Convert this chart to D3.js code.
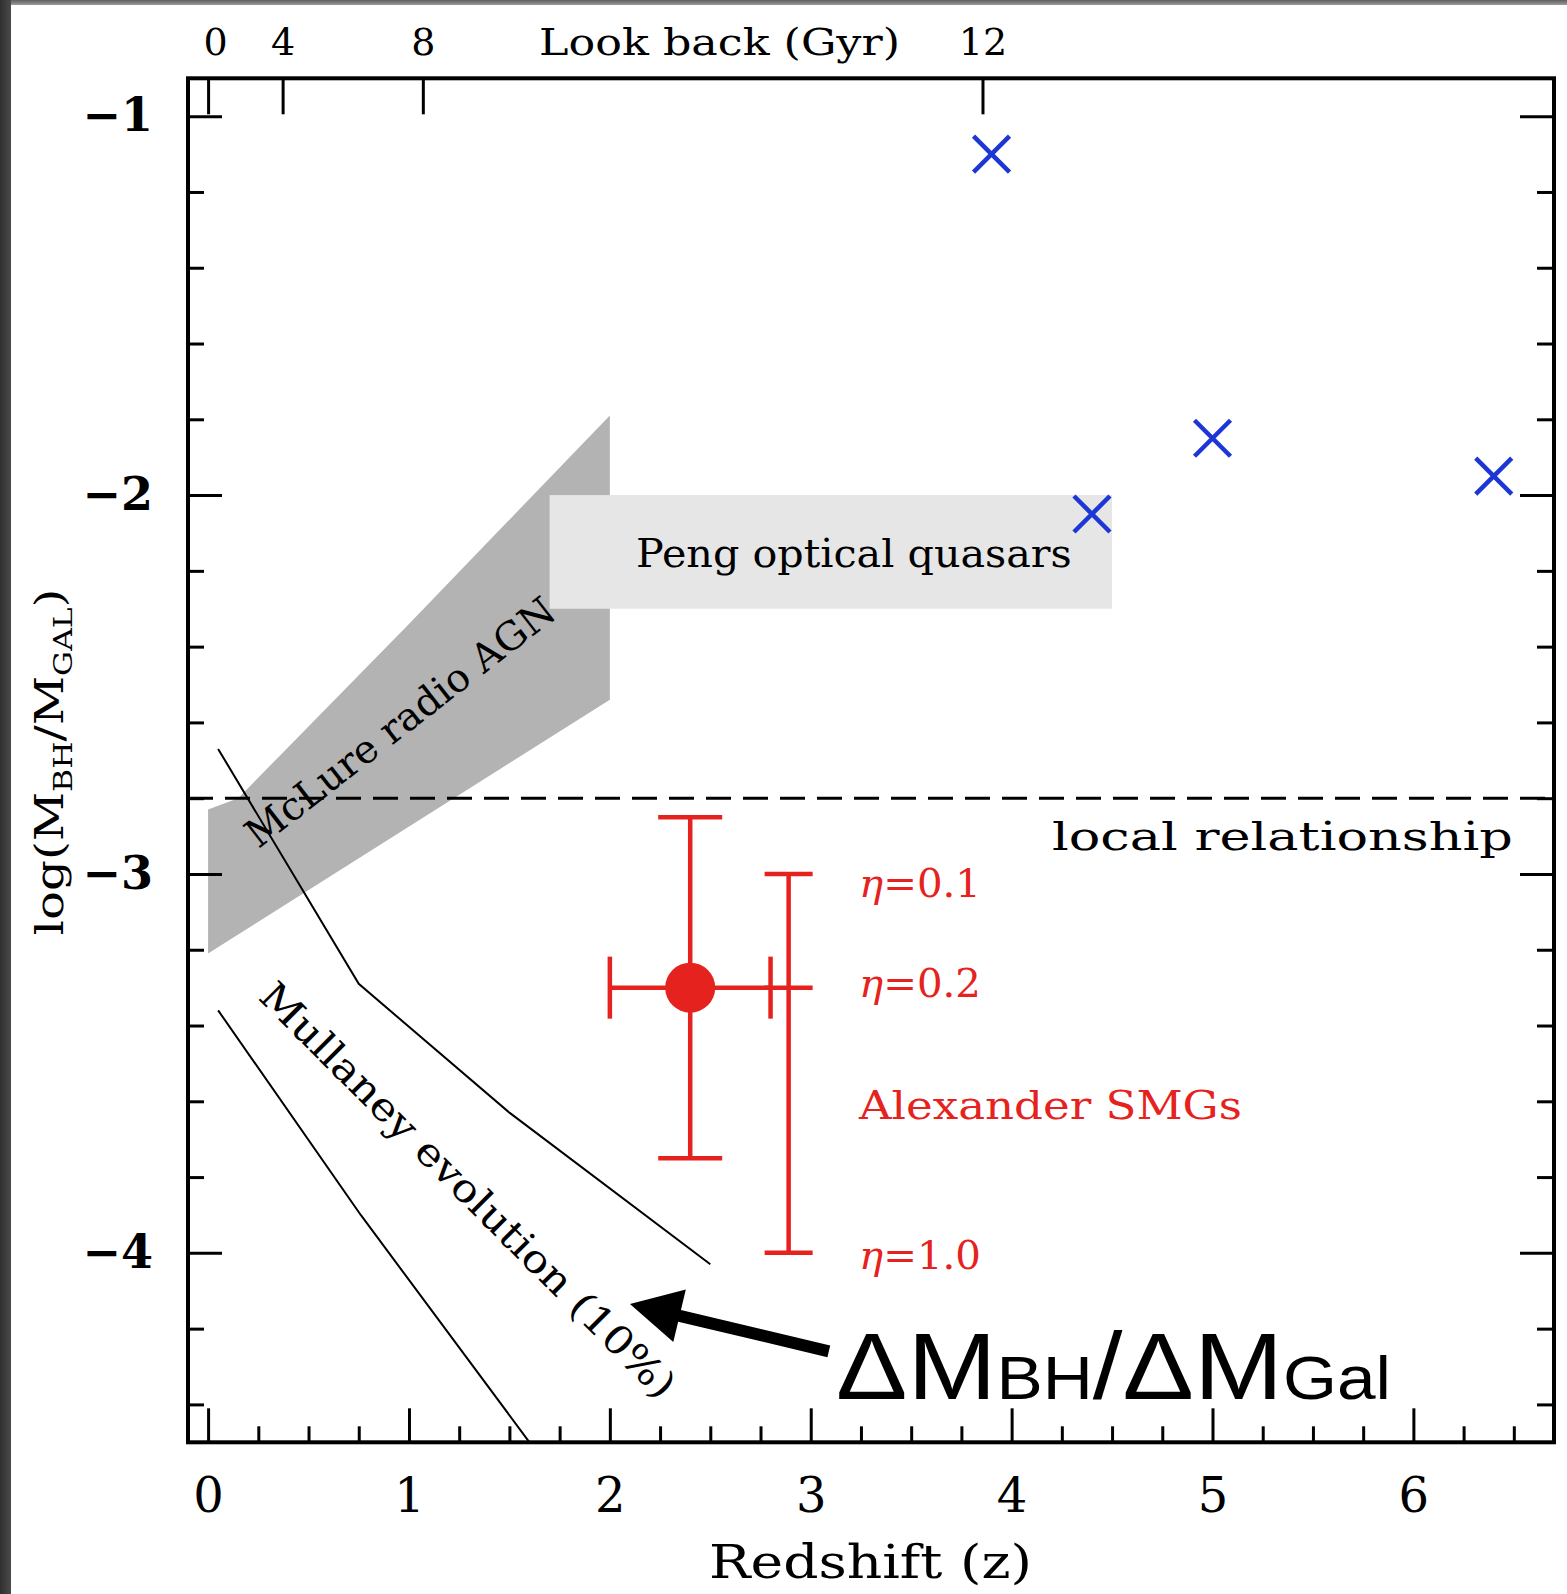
<!DOCTYPE html>
<html>
<head>
<meta charset="utf-8">
<script src="https://cdn.jsdelivr.net/npm/d3@7"></script>
<style>
  html, body { margin: 0; padding: 0; background: #fff; }
  svg { display: block; }
</style>
</head>
<body>
<svg id="chart" width="1567" height="1594"></svg>
<script>
// ---- axis ticks ----
const redshiftTicks = [0, 1, 2, 3, 4, 5, 6];
const redshiftMinorTicks = [0.25, 0.5, 0.75, 1.25, 1.5, 1.75, 2.25, 2.5, 2.75, 3.25, 3.5, 3.75,
                            4.25, 4.5, 4.75, 5.25, 5.5, 5.75, 6.25, 6.5];
const lookbackLabels = ["0", "4", "8", "12"];
const lookbackZ = [0, 0.371, 1.069, 3.855];
const logRatioTicks = [-1, -2, -3, -4];
const logRatioMinorTicks = [-1.2, -1.4, -1.6, -1.8, -2.2, -2.4, -2.6, -2.8,
                            -3.2, -3.4, -3.6, -3.8, -4.2, -4.4];

// ---- optical quasars (crosses) ----
const quasarZ = [3.9, 4.4, 5.0, 6.4];
const quasarLogRatio = [-1.1, -2.05, -1.85, -1.95];

// ---- local relation ----
const localLogRatio = -2.8;

// ---- Peng optical quasars region ----
const pengZ = [1.7, 4.5];
const pengLogRatio = [-2.3, -2.0];

// ---- McLure radio AGN band ----
const mclureUpperZ = [0, 0.15, 1.0, 2.0];
const mclureUpper = [-2.83, -2.80, -2.34, -1.79];
const mclureLowerZ = [0, 2.0];
const mclureLower = [-3.21, -2.54];

// ---- Mullaney evolution tracks ----
const mullaneyUpperZ = [0.05, 0.75, 1.5, 2.5];
const mullaneyUpper = [-2.67, -3.29, -3.63, -4.03];
const mullaneyLowerZ = [0.05, 0.76, 1.6];
const mullaneyLower = [-3.36, -3.90, -4.5];

// ---- Alexander SMGs ----
const smgZ = 2.4;
const smgLogRatio = -3.3;
const smgZRange = [2.0, 2.8];
const smgLogRange = [-3.75, -2.85];
const etaZ = 2.89;
const etaValues = ["0.1", "0.2", "1.0"];
const etaLogRatio = [-3.0, -3.3, -4.0];

// ---- annotation arrow (tail, tip) in data units ----
const arrowZ = [3.09, 2.10];
const arrowLogRatio = [-4.26, -4.135];

// ---------------------------------------------------------------
const RED = "#e5221d";
const BLUE = "#1d36d6";
const SERIF = "'DejaVu Serif', serif";

const svg = d3.select("#chart");

const x = d3.scaleLinear().domain([-0.1, 6.7]).range([188, 1554]);
const y = d3.scaleLinear().domain([-4.5, -0.9]).range([1442.3, 78.3]);

// slide edge
const defs = svg.append("defs");
const lg = defs.append("linearGradient").attr("id", "edgeL").attr("x1", 0).attr("x2", 1).attr("y1", 0).attr("y2", 0);
lg.append("stop").attr("offset", 0).attr("stop-color", "#2f2f2f");
lg.append("stop").attr("offset", 1).attr("stop-color", "#4a4a4a");
const tg = defs.append("linearGradient").attr("id", "edgeT").attr("x1", 0).attr("x2", 0).attr("y1", 0).attr("y2", 1);
tg.append("stop").attr("offset", 0).attr("stop-color", "#5e5e5e");
tg.append("stop").attr("offset", 1).attr("stop-color", "#9c9c9c");
svg.append("rect").attr("x", 0).attr("y", 0).attr("width", 1567).attr("height", 5).attr("fill", "url(#edgeT)");
svg.append("rect").attr("x", 0).attr("y", 0).attr("width", 11).attr("height", 1594).attr("fill", "url(#edgeL)");

// fit a label to a given width by stretching along its own direction
function placeText(sel, px, py, width, angle) {
  const w = sel.node().getBBox().width;
  const s = width ? width / w : 1;
  sel.attr("transform", `translate(${px},${py}) rotate(${angle || 0}) scale(${s},1)`);
  return sel;
}

const plot = svg.append("g");

// McLure band
const bandPts = mclureUpperZ.map((z, i) => [x(z), y(mclureUpper[i])])
  .concat(mclureLowerZ.map((z, i) => [x(z), y(mclureLower[i])]).reverse());
plot.append("path")
  .attr("d", d3.line()(bandPts) + "Z")
  .attr("fill", "#b3b3b3");

// Peng region
plot.append("rect")
  .attr("x", x(pengZ[0])).attr("y", y(pengLogRatio[1]))
  .attr("width", x(pengZ[1]) - x(pengZ[0]))
  .attr("height", y(pengLogRatio[0]) - y(pengLogRatio[1]))
  .attr("fill", "#e6e6e6");

// local relation
plot.append("line")
  .attr("x1", x(-0.1)).attr("x2", x(6.7))
  .attr("y1", y(localLogRatio)).attr("y2", y(localLogRatio))
  .attr("stroke", "#000").attr("stroke-width", 3).attr("stroke-dasharray", "25 12");

// Mullaney tracks
const trackLine = d3.line().x(d => x(d[0])).y(d => y(d[1]));
[[mullaneyUpperZ, mullaneyUpper], [mullaneyLowerZ, mullaneyLower]].forEach(([zs, vs]) => {
  plot.append("path")
    .attr("d", trackLine(zs.map((z, i) => [z, vs[i]])))
    .attr("fill", "none").attr("stroke", "#000").attr("stroke-width", 2);
});

// region labels
placeText(plot.append("text").attr("font-family", SERIF).attr("font-size", 39)
  .attr("text-anchor", "middle").attr("dy", "0.35em").text("McLure radio AGN"), 400, 722, 380, -37.8);
placeText(plot.append("text").attr("font-family", SERIF).attr("font-size", 39)
  .attr("text-anchor", "middle").attr("dy", "0.35em").text("Mullaney evolution (10%)"), 468, 1190, 570, 45);
placeText(plot.append("text").attr("font-family", SERIF).attr("font-size", 40)
  .text("Peng optical quasars"), 636, 567, 436);
placeText(plot.append("text").attr("font-family", SERIF).attr("font-size", 40)
  .text("local relationship"), 1052, 850, 461);

// Alexander SMGs
const red = plot.append("g").attr("stroke", RED).attr("stroke-width", 4.5).attr("fill", "none");
red.append("line").attr("x1", x(smgZ)).attr("x2", x(smgZ)).attr("y1", y(smgLogRange[0])).attr("y2", y(smgLogRange[1]));
smgLogRange.forEach(v => red.append("line")
  .attr("x1", x(smgZ) - 32).attr("x2", x(smgZ) + 32).attr("y1", y(v)).attr("y2", y(v)));
red.append("line").attr("x1", x(smgZRange[0])).attr("x2", x(smgZRange[1])).attr("y1", y(smgLogRatio)).attr("y2", y(smgLogRatio));
smgZRange.forEach(z => red.append("line")
  .attr("x1", x(z)).attr("x2", x(z)).attr("y1", y(smgLogRatio) - 31).attr("y2", y(smgLogRatio) + 31));
red.append("line").attr("x1", x(etaZ)).attr("x2", x(etaZ))
  .attr("y1", y(d3.min(etaLogRatio))).attr("y2", y(d3.max(etaLogRatio)));
etaLogRatio.forEach(v => red.append("line")
  .attr("x1", x(etaZ) - 24).attr("x2", x(etaZ) + 24).attr("y1", y(v)).attr("y2", y(v)));
plot.append("circle").attr("cx", x(smgZ)).attr("cy", y(smgLogRatio)).attr("r", 25).attr("fill", RED);

const etaDy = [23, 9, 16];
etaValues.forEach((t, i) => {
  const lab = plot.append("text").attr("font-family", SERIF).attr("font-size", 40).attr("fill", RED);
  lab.append("tspan").attr("font-style", "italic").text("η");
  lab.append("tspan").text("=" + t);
  placeText(lab, 859, y(etaLogRatio[i]) + etaDy[i], 122);
});
placeText(plot.append("text").attr("font-family", SERIF).attr("font-size", 40).attr("fill", RED)
  .text("Alexander SMGs"), 859, 1119, 384);

// optical quasars
const cross = 18;
plot.append("g").selectAll("path").data(quasarZ.map((z, i) => [x(z), y(quasarLogRatio[i])]))
  .join("path")
  .attr("d", d => `M${d[0] - cross},${d[1] - cross}L${d[0] + cross},${d[1] + cross}M${d[0] - cross},${d[1] + cross}L${d[0] + cross},${d[1] - cross}`)
  .attr("stroke", BLUE).attr("stroke-width", 4.5).attr("fill", "none");

// ---- axes ----
function styleAxis(g) {
  g.attr("font-family", SERIF).attr("font-size", null);
  g.select(".domain").remove();
  g.selectAll(".tick line").attr("stroke", "#000").attr("stroke-width", 3);
  g.selectAll(".tick text").attr("fill", "#000");
}
const [yBot, yTop] = y.range();
const [xL, xR] = x.range();

svg.append("g").attr("transform", `translate(0,${yBot})`)
  .call(d3.axisBottom(x).tickValues(redshiftTicks).tickSize(-34).tickPadding(36).tickFormat(d3.format("d")))
  .call(styleAxis).attr("font-size", 48);
svg.append("g").attr("transform", `translate(0,${yBot})`)
  .call(d3.axisBottom(x).tickValues(redshiftMinorTicks).tickSize(-16).tickFormat(""))
  .call(styleAxis);

svg.append("g").attr("transform", `translate(${xL},0)`)
  .call(d3.axisLeft(y).tickValues(logRatioTicks).tickSize(-34).tickPadding(35).tickFormat(d3.format("d")))
  .call(styleAxis).attr("font-size", 46).attr("font-weight", "bold");
svg.append("g").attr("transform", `translate(${xL},0)`)
  .call(d3.axisLeft(y).tickValues(logRatioMinorTicks).tickSize(-16).tickFormat(""))
  .call(styleAxis);

svg.append("g").attr("transform", `translate(${xR},0)`)
  .call(d3.axisRight(y).tickValues(logRatioTicks).tickSize(-34).tickFormat(""))
  .call(styleAxis);
svg.append("g").attr("transform", `translate(${xR},0)`)
  .call(d3.axisRight(y).tickValues(logRatioMinorTicks).tickSize(-17).tickFormat(""))
  .call(styleAxis);

const topAxis = svg.append("g").attr("transform", `translate(0,${yTop})`)
  .call(d3.axisTop(x).tickValues(lookbackZ).tickSize(-36).tickPadding(23).tickFormat((d, i) => lookbackLabels[i]))
  .call(styleAxis).attr("font-size", 38);
// the leftmost look-back label sits just clear of the frame corner
topAxis.selectAll(".tick text").filter((d, i) => i === 0).attr("dx", 7);

// frame
svg.append("rect").attr("x", xL).attr("y", yTop).attr("width", xR - xL).attr("height", yBot - yTop)
  .attr("fill", "none").attr("stroke", "#000").attr("stroke-width", 4);

// axis titles
placeText(svg.append("text").attr("font-family", SERIF).attr("font-size", 38).attr("text-anchor", "middle")
  .text("Look back (Gyr)"), 719.5, 55, 361);
placeText(svg.append("text").attr("font-family", SERIF).attr("font-size", 46).attr("text-anchor", "middle")
  .text("Redshift (z)"), 870.5, 1578, 323);

const yl = svg.append("text").attr("font-family", SERIF).attr("font-size", 40).attr("text-anchor", "middle");
yl.append("tspan").text("log(M");
yl.append("tspan").attr("font-size", 26).attr("dy", 9).text("BH");
yl.append("tspan").attr("dy", -9).text("/M");
yl.append("tspan").attr("font-size", 26).attr("dy", 9).text("GAL");
yl.append("tspan").attr("dy", -9).text(")");
placeText(yl, 63, 762, 347, -90);

// ---- annotation: arrow and ratio label ----
(function () {
  const tail = [x(arrowZ[0]), y(arrowLogRatio[0])];
  const tip = [x(arrowZ[1]), y(arrowLogRatio[1])];
  const dx = tip[0] - tail[0], dy = tip[1] - tail[1];
  const len = Math.hypot(dx, dy);
  const ux = dx / len, uy = dy / len, nx = -uy, ny = ux;
  const headLen = 51, headHalf = 27, shaftHalf = 6;
  const bx = tip[0] - ux * headLen, by = tip[1] - uy * headLen;
  const pts = [
    [tail[0] + nx * shaftHalf, tail[1] + ny * shaftHalf],
    [bx + nx * shaftHalf, by + ny * shaftHalf],
    [bx + nx * headHalf, by + ny * headHalf],
    tip,
    [bx - nx * headHalf, by - ny * headHalf],
    [bx - nx * shaftHalf, by - ny * shaftHalf],
    [tail[0] - nx * shaftHalf, tail[1] - ny * shaftHalf]
  ];
  svg.append("path").attr("d", d3.line()(pts) + "Z").attr("fill", "#000");
})();

const ann = svg.append("text").attr("font-family", "'Liberation Sans', Arial, sans-serif").attr("font-size", 94).attr("fill", "#000");
ann.append("tspan").text("ΔM");
ann.append("tspan").attr("font-size", 61).text("BH");
ann.append("tspan").text("/ΔM");
ann.append("tspan").attr("font-size", 61).text("Gal");
placeText(ann, 836, 1399, 555);
</script>
</body>
</html>
